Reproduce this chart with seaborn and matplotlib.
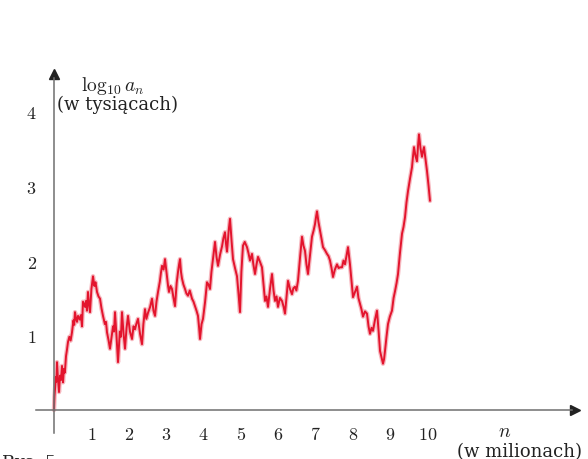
import matplotlib
matplotlib.use("Agg")
import matplotlib.pyplot as plt
import seaborn as sns

# n in millions and the value of log10 a_n along the walk
n_mln = [0.000, 0.013, 0.027, 0.050, 0.065, 0.080, 0.105, 0.134, 0.160, 0.185,
         0.214, 0.241, 0.265, 0.290, 0.321, 0.345, 0.374, 0.410, 0.445, 0.481,
         0.520, 0.540, 0.561, 0.590, 0.615, 0.642, 0.690, 0.720, 0.749, 0.775,
         0.830, 0.855, 0.882, 0.909, 0.935, 0.963, 1.000, 1.020, 1.043, 1.080,
         1.110, 1.150, 1.190, 1.230, 1.270, 1.310, 1.360, 1.390, 1.417, 1.460,
         1.497, 1.540, 1.578, 1.605, 1.631, 1.670, 1.711, 1.760, 1.790, 1.818,
         1.860, 1.898, 1.940, 1.979, 2.030, 2.086, 2.126, 2.166, 2.200, 2.246,
         2.300, 2.353, 2.390, 2.433, 2.470, 2.513, 2.570, 2.620, 2.660, 2.701,
         2.740, 2.781, 2.830, 2.860, 2.888, 2.930, 2.968, 2.995, 3.021, 3.050,
         3.075, 3.115, 3.155, 3.195, 3.235, 3.280, 3.316, 3.345, 3.369, 3.395,
         3.422, 3.460, 3.503, 3.540, 3.583, 3.630, 3.690, 3.730, 3.770, 3.810,
         3.850, 3.880, 3.904, 3.945, 3.984, 4.040, 4.091, 4.130, 4.171, 4.210,
         4.251, 4.280, 4.305, 4.345, 4.385, 4.440, 4.492, 4.530, 4.572, 4.600,
         4.626, 4.670, 4.706, 4.750, 4.786, 4.840, 4.893, 4.935, 4.973, 5.010,
         5.053, 5.100, 5.160, 5.200, 5.241, 5.294, 5.330, 5.374, 5.415, 5.455,
         5.510, 5.561, 5.600, 5.642, 5.680, 5.722, 5.775, 5.829, 5.870, 5.909,
         5.950, 5.989, 6.040, 6.096, 6.140, 6.176, 6.215, 6.257, 6.310, 6.364,
         6.400, 6.444, 6.480, 6.524, 6.580, 6.631, 6.670, 6.711, 6.750, 6.791,
         6.850, 6.898, 6.940, 6.979, 7.005, 7.032, 7.070, 7.112, 7.150, 7.193,
         7.245, 7.299, 7.340, 7.380, 7.420, 7.460, 7.510, 7.567, 7.610, 7.647,
         7.701, 7.740, 7.781, 7.820, 7.861, 7.890, 7.914, 7.955, 7.995, 8.050,
         8.102, 8.140, 8.182, 8.220, 8.262, 8.315, 8.369, 8.410, 8.449, 8.490,
         8.529, 8.580, 8.636, 8.680, 8.717, 8.760, 8.797, 8.825, 8.850, 8.890,
         8.930, 8.980, 9.037, 9.080, 9.118, 9.160, 9.198, 9.250, 9.305, 9.345,
         9.385, 9.425, 9.465, 9.520, 9.572, 9.600, 9.626, 9.665, 9.706, 9.735,
         9.759, 9.800, 9.840, 9.865, 9.893, 9.935, 9.973, 10.015, 10.053]
log_a = [0.00, 0.18, 0.28, 0.44, 0.38, 0.64, 0.42, 0.24, 0.46, 0.40,
         0.59, 0.37, 0.55, 0.50, 0.72, 0.80, 0.91, 0.98, 0.93, 1.04,
         1.20, 1.14, 1.31, 1.22, 1.18, 1.26, 1.21, 1.27, 1.12, 1.45,
         1.38, 1.46, 1.33, 1.58, 1.42, 1.31, 1.62, 1.70, 1.79, 1.66,
         1.71, 1.58, 1.52, 1.49, 1.36, 1.26, 1.15, 1.18, 1.04, 0.93,
         0.82, 0.98, 1.12, 1.05, 1.31, 1.00, 0.64, 1.05, 0.98, 1.31,
         1.02, 0.82, 1.10, 1.26, 1.05, 0.95, 1.12, 1.08, 1.15, 1.22,
         1.02, 0.88, 1.15, 1.35, 1.22, 1.30, 1.38, 1.49, 1.33, 1.26,
         1.45, 1.58, 1.72, 1.84, 1.93, 1.88, 2.02, 1.90, 1.79, 1.66,
         1.58, 1.66, 1.62, 1.50, 1.39, 1.70, 1.85, 1.95, 2.02, 1.85,
         1.76, 1.68, 1.62, 1.56, 1.53, 1.60, 1.49, 1.45, 1.39, 1.33,
         1.26, 1.10, 0.95, 1.15, 1.22, 1.45, 1.71, 1.68, 1.62, 1.85,
         2.02, 2.15, 2.25, 2.05, 1.93, 2.08, 2.19, 2.30, 2.38, 2.22,
         2.12, 2.40, 2.56, 2.25, 2.02, 1.90, 1.79, 1.55, 1.31, 1.85,
         2.20, 2.25, 2.18, 2.10, 2.00, 2.09, 1.95, 1.82, 1.95, 2.05,
         1.98, 1.91, 1.70, 1.46, 1.52, 1.38, 1.62, 1.82, 1.60, 1.46,
         1.52, 1.38, 1.50, 1.46, 1.38, 1.29, 1.50, 1.73, 1.62, 1.55,
         1.63, 1.65, 1.60, 1.73, 2.05, 2.32, 2.20, 2.13, 1.95, 1.82,
         2.10, 2.32, 2.40, 2.49, 2.58, 2.66, 2.52, 2.40, 2.30, 2.18,
         2.14, 2.09, 2.06, 2.00, 1.90, 1.78, 1.88, 1.95, 1.90, 1.91,
         1.91, 2.00, 1.95, 2.06, 2.18, 2.05, 1.95, 1.72, 1.51, 1.58,
         1.65, 1.50, 1.42, 1.35, 1.25, 1.32, 1.29, 1.12, 1.02, 1.10,
         1.06, 1.20, 1.33, 1.05, 0.79, 0.70, 0.62, 0.68, 0.79, 0.98,
         1.15, 1.25, 1.33, 1.50, 1.59, 1.70, 1.82, 2.10, 2.36, 2.45,
         2.58, 2.78, 2.93, 3.10, 3.25, 3.40, 3.52, 3.40, 3.33, 3.55,
         3.69, 3.50, 3.39, 3.46, 3.52, 3.35, 3.20, 3.00, 2.80]

x_ticks = list(range(1, 14))
x_tick_labels = ["1", "2", "3", "4", "5", "6", "7", "8", "9", "10", "", "", ""]
y_ticks = [1, 2, 3, 4]
y_tick_labels = ["1", "2", "3", "4"]

sns.set_theme(style="white")
plt.rcParams["mathtext.fontset"] = "cm"
plt.rcParams["font.family"] = ["DejaVu Serif", "Liberation Serif"]

axis_grey = "#6f6f6f"
line_red = "#e3142d"
txt = "#222222"

fig = plt.figure(figsize=(5.88, 4.60), dpi=100)
ax = fig.add_axes([0, 0, 1, 1])
ax.set_xlim(-1.444, 14.278)
ax.set_ylim(-0.656, 5.502)

# soft halo under the walk, then the walk itself
sns.lineplot(x=n_mln, y=log_a, sort=False, color=line_red, linewidth=3.2,
             alpha=0.3, ax=ax, estimator=None)
sns.lineplot(x=n_mln, y=log_a, sort=False, color=line_red, linewidth=1.4,
             ax=ax, estimator=None)

# axes through the origin
for side in ["top", "right"]:
    ax.spines[side].set_visible(False)
ax.spines["left"].set_position(("data", 0))
ax.spines["bottom"].set_position(("data", 0))
ax.spines["left"].set_bounds(-0.31, 4.45)
ax.spines["bottom"].set_bounds(-0.48, 13.85)
for side in ["left", "bottom"]:
    ax.spines[side].set_color(axis_grey)
    ax.spines[side].set_linewidth(1.1)

ax.plot([0], [4.50], marker="^", color="#222222", markersize=7, clip_on=False)
ax.plot([13.93], [0], marker=">", color="#222222", markersize=7, clip_on=False)

ax.set_xticks(x_ticks)
ax.set_xticklabels([f"${t}$" if t else "" for t in x_tick_labels])
ax.set_yticks(y_ticks)
ax.set_yticklabels([f"${t}$" for t in y_tick_labels])
ax.tick_params(axis="both", direction="inout", length=7, width=1.0,
               color=axis_grey, labelsize=13, labelcolor=txt)
ax.tick_params(axis="x", pad=7)
ax.tick_params(axis="y", pad=9)

ax.text(1.578, 4.351, r"$\log_{10} a_n$", fontsize=14, ha="center",
        va="center", color=txt)
ax.text(0.08, 4.096, "(w tysiącach)", fontsize=13, ha="left", va="center",
        color=txt)
ax.text(12.06, -0.281, r"$n$", fontsize=14, ha="center", va="center",
        color=txt)
ax.text(12.45, -0.549, "(w milionach)", fontsize=13, ha="center",
        va="center", color=txt)
ax.text(-1.39, -0.69, "Rys. 5", fontsize=12.5, ha="left", va="center",
        color=txt, clip_on=False)

fig.savefig("out.png", dpi=100)
